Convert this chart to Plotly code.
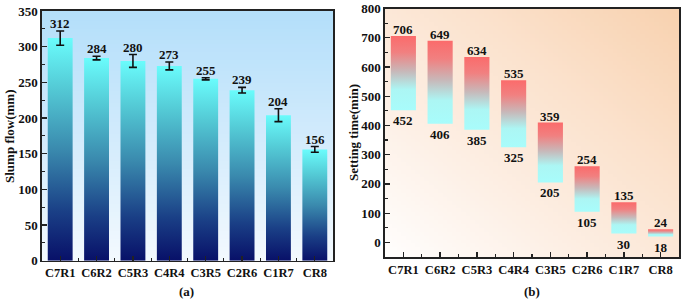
import base64
import struct
import zlib

import plotly.graph_objects as go

# ---------------- data ----------------
categories = ["C7R1", "C6R2", "C5R3", "C4R4", "C3R5", "C2R6", "C1R7", "CR8"]
slump_flow = [312, 284, 280, 273, 255, 239, 204, 156]
slump_err = [10, 2.5, 9, 5.5, 1.5, 4, 9, 4]

# setting time: drawn extents and printed labels
set_bar_top = [706, 690, 634, 555, 410, 260, 137, 45]
set_bar_bottom = [452, 406, 385, 325, 205, 105, 30, 20]
set_label_top = [706, 649, 634, 535, 359, 254, 135, 24]
set_label_bottom = [452, 406, 385, 325, 205, 105, 30, 18]

W, H = 685, 302
FONT = "Liberation Serif, Times New Roman, serif"
HALF = 0.342

blue_scale = [[0, "#081068"], [0.22, "#1a3f86"], [0.5, "#3a8aae"],
              [0.78, "#54cbd6"], [1, "#6afcfc"]]
red_scale = [[0, "#a8fcfb"], [0.28, "#acf6f4"], [0.52, "#c7b9ba"],
             [0.78, "#f18080"], [1, "#fb6b6b"]]


# ---- gradient background images (styling only) ----
def hex2rgb(h):
    h = h.lstrip("#")
    return [int(h[i:i + 2], 16) for i in (0, 2, 4)]


def lerp_scale(stops, t):
    t = max(0.0, min(1.0, t))
    for (t0, c0), (t1, c1) in zip(stops[:-1], stops[1:]):
        if t <= t1:
            f = 0 if t1 == t0 else (t - t0) / (t1 - t0)
            a, b = hex2rgb(c0), hex2rgb(c1)
            return [round(a[k] + (b[k] - a[k]) * f) for k in range(3)]
    return hex2rgb(stops[-1][1])


def png_uri(w, h, func):
    raw = b""
    for j in range(h):
        row = b"\x00"
        for i in range(w):
            row += bytes(func(i / (w - 1), j / (h - 1)))
        raw += row

    def chunk(tag, data):
        c = struct.pack(">I", len(data)) + tag + data
        return c + struct.pack(">I", zlib.crc32(tag + data) & 0xffffffff)

    png = b"\x89PNG\r\n\x1a\n"
    png += chunk(b"IHDR", struct.pack(">IIBBBBB", w, h, 8, 2, 0, 0, 0))
    png += chunk(b"IDAT", zlib.compress(raw, 9))
    png += chunk(b"IEND", b"")
    return "data:image/png;base64," + base64.b64encode(png).decode()


bg_a_stops = [(0, "#b4dffa"), (0.5, "#d2ebfc"), (1, "#f3f9fe")]
bg_b_stops = [(0, "#fffefd"), (0.3, "#fdf0e6"), (0.65, "#fbe2cd"), (1, "#f8d2b0")]

img_a = png_uri(4, 64, lambda u, v: lerp_scale(bg_a_stops, v))
img_b = png_uri(64, 64, lambda u, v: lerp_scale(bg_b_stops, (u + (1 - v)) / 2))

n = len(categories)
fig = go.Figure()

# ---- panel (a) bars ----
for i, v in enumerate(slump_flow):
    fig.add_trace(go.Scatter(
        x=[i - HALF, i + HALF, i + HALF, i - HALF, i - HALF],
        y=[0, 0, v, v, 0], xaxis="x", yaxis="y",
        mode="lines", fill="toself",
        line=dict(width=0, color="rgba(0,0,0,0)"),
        fillgradient=dict(type="vertical", colorscale=blue_scale),
        hoverinfo="skip", showlegend=False))

fig.add_trace(go.Scatter(
    x=list(range(n)), y=slump_flow, xaxis="x", yaxis="y", mode="markers",
    marker=dict(size=1, color="rgba(0,0,0,0)"),
    error_y=dict(type="data", array=slump_err, color="#111", thickness=1.6, width=4),
    hoverinfo="skip", showlegend=False))

# ---- panel (b) bars ----
for i, (b, t) in enumerate(zip(set_bar_bottom, set_bar_top)):
    fig.add_trace(go.Scatter(
        x=[i - HALF, i + HALF, i + HALF, i - HALF, i - HALF],
        y=[b, b, t, t, b], xaxis="x2", yaxis="y2",
        mode="lines", fill="toself",
        line=dict(width=0, color="rgba(0,0,0,0)"),
        fillgradient=dict(type="vertical", colorscale=red_scale),
        hoverinfo="skip", showlegend=False))

annotations = []
lab_font = dict(family=FONT, size=13, color="#111", weight="bold")
for i, (v, e) in enumerate(zip(slump_flow, slump_err)):
    annotations.append(dict(x=i, y=v + e, xref="x", yref="y", text=str(v),
                            showarrow=False, yanchor="bottom", yshift=-2, font=lab_font))
for i in range(n):
    annotations.append(dict(x=i, y=set_bar_top[i], xref="x2", yref="y2",
                            text=str(set_label_top[i]), showarrow=False,
                            yanchor="bottom", yshift=-3, font=lab_font))
    annotations.append(dict(x=i, y=set_bar_bottom[i], xref="x2", yref="y2",
                            text=str(set_label_bottom[i]), showarrow=False,
                            yanchor="top", yshift=-1, font=lab_font))

annotations.append(dict(x=187 / W, y=1 - 291 / H, xref="paper", yref="paper",
                        text="(a)", showarrow=False, xanchor="center",
                        yanchor="middle", font=lab_font))
annotations.append(dict(x=532 / W, y=1 - 291 / H, xref="paper", yref="paper",
                        text="(b)", showarrow=False, xanchor="center",
                        yanchor="middle", font=lab_font))
annotations.append(dict(x=9 / W, y=1 - 136 / H, xref="paper", yref="paper",
                        text="Slump flow(mm)", textangle=-90, showarrow=False,
                        xanchor="center", yanchor="middle", font=lab_font))
annotations.append(dict(x=353 / W, y=1 - 132 / H, xref="paper", yref="paper",
                        text="Setting time(min)", textangle=-90, showarrow=False,
                        xanchor="center", yanchor="middle", font=lab_font))

ytick_font = dict(family=FONT, size=13, color="#111", weight="bold")
xtick_font = dict(family=FONT, size=12.5, color="#111", weight="bold")
frame = dict(showline=True, linecolor="#222", linewidth=1.6, mirror=True,
             showgrid=False, zeroline=False, ticks="inside", ticklen=5,
             tickwidth=1.3, tickcolor="#222", tickfont=ytick_font, automargin=False)

xcommon = dict(frame, range=[-0.5, n - 0.5], tickmode="array",
               tickvals=list(range(n)), ticktext=categories, tickfont=xtick_font,
               minor=dict(tickmode="linear", tick0=0.5, dtick=1, ticks="inside",
                          ticklen=3, tickwidth=1.2, tickcolor="#222"))

xa = [42 / W, 333 / W]
ya = [1 - 260.7 / H, 1 - 11 / H]
xb = [385 / W, 679 / W]
yb = [1 - 257 / H, 1 - 8.5 / H]

fig.update_layout(
    width=W, height=H, margin=dict(l=0, r=0, t=0, b=0),
    paper_bgcolor="white", plot_bgcolor="rgba(0,0,0,0)",
    xaxis=dict(xcommon, domain=xa, anchor="y"),
    yaxis=dict(frame, domain=ya, anchor="x",
               range=[0, 350], tickmode="linear", tick0=0, dtick=50,
               minor=dict(tickmode="linear", tick0=0, dtick=25, ticks="inside",
                          ticklen=3, tickwidth=1.2, tickcolor="#222")),
    xaxis2=dict(xcommon, domain=xb, anchor="y2"),
    yaxis2=dict(frame, domain=yb, anchor="x2",
                range=[-50, 800], tickmode="linear", tick0=0, dtick=100,
                minor=dict(tickmode="linear", tick0=0, dtick=50, ticks="inside",
                           ticklen=3, tickwidth=1.2, tickcolor="#222")),
    images=[
        dict(source=img_a, xref="paper", yref="paper", x=xa[0], y=ya[1],
             sizex=xa[1] - xa[0], sizey=ya[1] - ya[0], sizing="stretch",
             xanchor="left", yanchor="top", layer="below"),
        dict(source=img_b, xref="paper", yref="paper", x=xb[0], y=yb[1],
             sizex=xb[1] - xb[0], sizey=yb[1] - yb[0], sizing="stretch",
             xanchor="left", yanchor="top", layer="below"),
    ],
    annotations=annotations,
)

fig.write_html(
    "out.html",
    config={"displayModeBar": False, "staticPlot": True},
    post_script="document.body.style.margin='0';document.body.style.padding='0';"
                "document.documentElement.style.overflow='hidden';",
)
